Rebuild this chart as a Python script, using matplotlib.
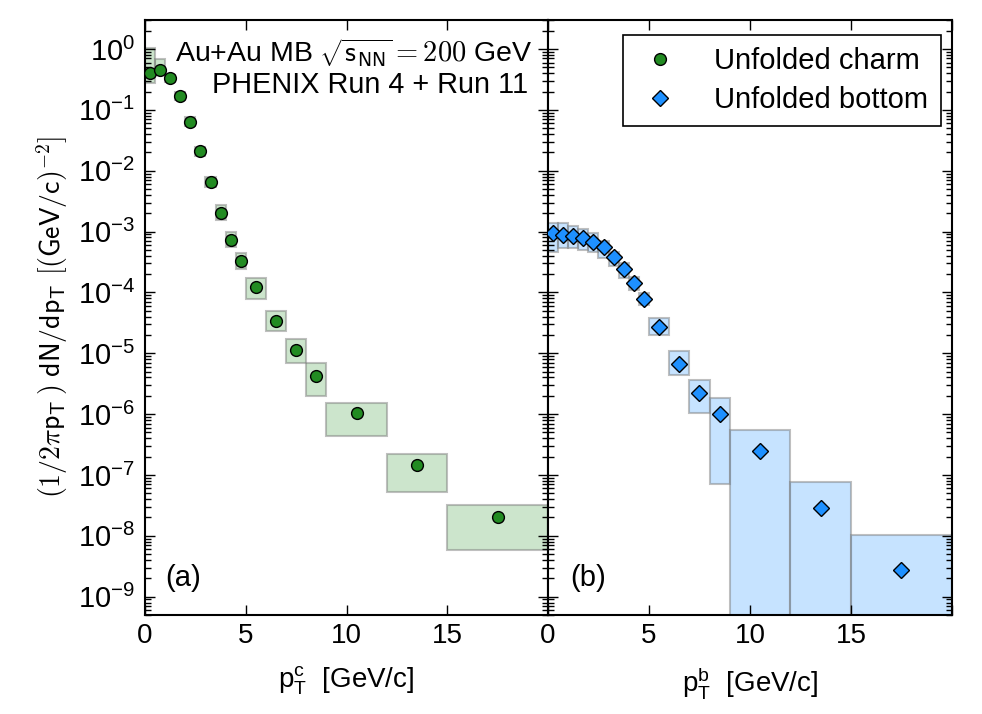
import numpy as np
import matplotlib
matplotlib.use("Agg")
import matplotlib.pyplot as plt
from matplotlib.lines import Line2D
from matplotlib.ticker import FixedLocator, FuncFormatter, LogLocator, NullFormatter

plt.rcParams['font.family'] = ['Liberation Sans', 'DejaVu Sans']
plt.rcParams['mathtext.fontset'] = 'custom'
plt.rcParams['mathtext.rm'] = 'Liberation Sans'
plt.rcParams['mathtext.sf'] = 'Liberation Sans'
plt.rcParams['mathtext.it'] = 'Liberation Sans:italic'

# bin edges (GeV/c) shared by both spectra
bin_edges = [0, 0.5, 1, 1.5, 2, 2.5, 3, 3.5, 4, 4.5, 5, 6, 7, 8, 9, 12, 15, 20]
pt = [0.25, 0.75, 1.25, 1.75, 2.25, 2.75, 3.25, 3.75, 4.25, 4.75,
      5.5, 6.5, 7.5, 8.5, 10.5, 13.5, 17.5]

charm_y = [0.40, 0.455, 0.33, 0.170, 0.0636, 0.0210, 0.00656, 0.00205,
           7.4e-4, 3.3e-4, 1.22e-4, 3.45e-5, 1.14e-5, 4.25e-6, 1.04e-6, 1.45e-7, 2.07e-8]
charm_lo = [0.275, 0.377, 0.29, 0.145, 0.054, 0.0175, 0.0053, 0.00155,
            5.6e-4, 2.4e-4, 7.8e-5, 2.3e-5, 7.0e-6, 2.0e-6, 4.4e-7, 5.3e-8, 5.9e-9]
charm_hi = [1.03, 0.68, 0.38, 0.20, 0.075, 0.025, 0.0080, 0.0027,
            9.8e-4, 4.4e-4, 1.7e-4, 5.0e-5, 1.7e-5, 7.0e-6, 1.5e-6, 2.2e-7, 3.2e-8]

bottom_y = [9.4e-4, 8.7e-4, 8.5e-4, 7.7e-4, 6.85e-4, 5.5e-4, 3.75e-4, 2.4e-4,
            1.45e-4, 7.8e-5, 2.75e-5, 6.6e-6, 2.2e-6, 1.0e-6, 2.5e-7, 2.85e-8, 2.7e-9]
bottom_lo = [4.7e-4, 5.3e-4, 5.3e-4, 5.0e-4, 4.7e-4, 3.7e-4, 2.7e-4, 1.7e-4,
             1.1e-4, 6.1e-5, 2.0e-5, 4.4e-6, 1.04e-6, 7.0e-8, 1e-12, 1e-12, 1e-12]
bottom_hi = [1.4e-3, 1.4e-3, 1.25e-3, 1.1e-3, 9.5e-4, 6.9e-4, 4.7e-4, 3.0e-4,
             1.8e-4, 9.6e-5, 3.8e-5, 1.07e-5, 3.6e-6, 1.83e-6, 5.5e-7, 7.8e-8, 1.03e-8]

edges = np.array(bin_edges)
left_edge = edges[:-1]
widths = np.diff(edges)

fig = plt.figure(figsize=(9.82, 7.14), dpi=100)
ax1 = fig.add_axes([0.1477, 0.1387, 0.4104, 0.8333])
ax2 = fig.add_axes([0.5580, 0.1387, 0.4114, 0.8333], sharey=ax1)

box_edge = (0.5, 0.5, 0.5, 0.5)

# systematic boxes
ax1.bar(left_edge, np.array(charm_hi) - np.array(charm_lo), bottom=charm_lo, width=widths,
        align='edge', facecolor=(0, 0.5, 0, 0.2), edgecolor=box_edge, linewidth=1.5, zorder=1)
ax2.bar(left_edge, np.array(bottom_hi) - np.array(bottom_lo), bottom=bottom_lo, width=widths,
        align='edge', facecolor=(0.118, 0.565, 1.0, 0.25), edgecolor=box_edge, linewidth=1.5, zorder=1)

ax1.plot(pt, charm_y, 'o', color='forestgreen', markeredgecolor='black',
         markeredgewidth=1.0, markersize=8.5, zorder=3)
ax2.plot(pt, bottom_y, 'D', color='dodgerblue', markeredgecolor='black',
         markeredgewidth=1.0, markersize=8, zorder=3)

ax1.set_yscale('log')
ax1.set_ylim(5e-10, 3)


def pow_label(v, pos):
    return r'10$^{%d}$' % int(round(np.log10(v)))


for ax in (ax1, ax2):
    ax.set_xlim(0, 20)
    ax.xaxis.set_major_locator(FixedLocator([0, 5, 10, 15, 20]))
    ax.set_xticklabels(['0', '5', '10', '15', ''])
    ax.yaxis.set_major_locator(LogLocator(base=10, numticks=20))
    ax.yaxis.set_minor_locator(LogLocator(base=10, subs=np.arange(2, 10), numticks=20))
    ax.yaxis.set_minor_formatter(NullFormatter())
    ax.tick_params(which='both', direction='in', top=True, right=True, width=1.0)
    ax.tick_params(which='major', length=7, labelsize=20, pad=6)
    ax.tick_params(which='minor', length=4)
    for sp in ax.spines.values():
        sp.set_linewidth(1.5)

ax1.yaxis.set_major_formatter(FuncFormatter(pow_label))
ax1.tick_params(axis='y', labelsize=21, pad=7)
plt.setp(ax2.get_yticklabels(), visible=False)

ax1.set_ylabel(r'$(1/2\pi\mathsf{p_T}\,)\ \mathsf{dN/dp_T}\ \mathsf{[(GeV/c)}^{-2}\mathsf{]}$',
               fontsize=20, labelpad=6, math_fontfamily='cm')
ax1.set_xlabel(r'p$_\mathrm{T}^\mathrm{c}$  [GeV/c]', fontsize=20, labelpad=11)
ax2.set_xlabel(r'p$_\mathrm{T}^\mathrm{b}$  [GeV/c]', fontsize=20, labelpad=11)

ax1.text(0.962, 0.945, r'Au+Au MB $\sqrt{\mathsf{s_{NN}}}=200$ GeV', transform=ax1.transAxes,
         ha='right', va='center', fontsize=20.5, math_fontfamily='cm')
ax1.text(0.950, 0.891, 'PHENIX Run 4 + Run 11', transform=ax1.transAxes,
         ha='right', va='center', fontsize=20.8)

ax1.text(0.05, 0.062, '(a)', transform=ax1.transAxes, ha='left', va='center', fontsize=21)
ax2.text(0.055, 0.062, '(b)', transform=ax2.transAxes, ha='left', va='center', fontsize=21)

handles = [
    Line2D([], [], linestyle='none', marker='o', color='forestgreen', markeredgecolor='black',
           markersize=8.5, label='Unfolded charm'),
    Line2D([], [], linestyle='none', marker='D', color='dodgerblue', markeredgecolor='black',
           markersize=8, label='Unfolded bottom'),
]
leg = ax2.legend(handles=handles, loc='upper right', bbox_to_anchor=(0.972, 0.975),
                 borderaxespad=0, fontsize=21, frameon=True, fancybox=False,
                 edgecolor='black', framealpha=1, handletextpad=1.0, borderpad=0.42,
                 labelspacing=0.37, handlelength=1.7)
leg.get_frame().set_linewidth(1.2)

fig.savefig('out.png', dpi=100)
